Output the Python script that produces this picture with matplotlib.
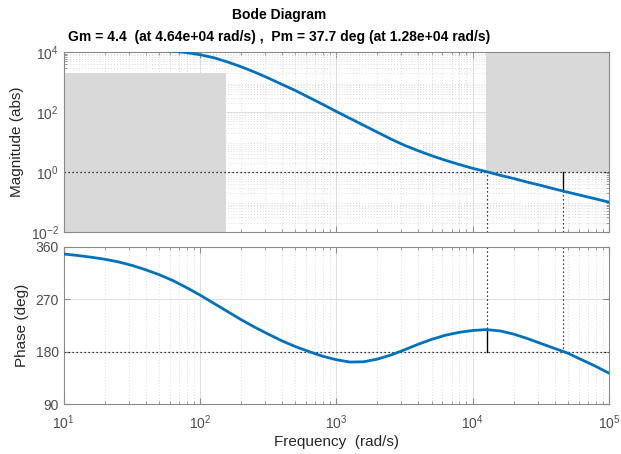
import numpy as np
import matplotlib
matplotlib.use("Agg")
import matplotlib.pyplot as plt
from matplotlib.patches import Rectangle
from matplotlib.ticker import LogLocator, FixedLocator, NullFormatter

# ---------------- data ----------------
mag_logw = [1.0, 1.2, 1.4, 1.6, 1.8, 1.9, 2.0, 2.1, 2.2, 2.3, 2.4, 2.5, 2.6, 2.7,
            2.8, 2.9, 3.0, 3.1, 3.2, 3.3, 3.4, 3.5, 3.6, 3.7, 3.8, 3.9, 4.0,
            4.1, 4.2, 4.3, 4.4, 4.5, 4.6, 4.7, 4.8, 4.9, 5.0]
mag_logval = [4.16, 4.15, 4.13, 4.10, 4.04, 3.99, 3.92, 3.82, 3.68, 3.52, 3.34,
              3.14, 2.93, 2.72, 2.49, 2.26, 2.02, 1.79, 1.56, 1.33, 1.10, 0.89,
              0.71, 0.54, 0.39, 0.25, 0.12, 0.01, -0.11, -0.22, -0.34, -0.45,
              -0.57, -0.68, -0.79, -0.90, -1.01]

ph_logw = [1.0, 1.1, 1.2, 1.3, 1.4, 1.5, 1.6, 1.7, 1.8, 1.9, 2.0, 2.1, 2.2, 2.3,
           2.4, 2.5, 2.6, 2.7, 2.8, 2.9, 3.0, 3.1, 3.2, 3.3, 3.4, 3.5, 3.6,
           3.7, 3.8, 3.9, 4.0, 4.1, 4.2, 4.3, 4.4, 4.5, 4.6, 4.667, 4.7, 4.8,
           4.9, 5.0]
ph_deg = [347.5, 345, 342, 338.5, 334, 328, 320.5, 312, 302, 290, 277, 263, 249,
          235, 222, 210, 198.5, 188.5, 180, 172, 166, 162, 162.5, 167, 174, 183,
          192.5, 201, 208, 213, 216.2, 217.7, 215.5, 210, 202.5, 194, 185.5, 180,
          177, 166, 155, 143]

gm_value = 4.4
gm_freq = 4.64e4
pm_value = 37.7
pm_freq = 1.28e4

# constraint boxes: (w_lo, w_hi, mag_lo, mag_hi)
box_low = (10, 155, 1e-2, 2000)
box_high = (1.25e4, 1e5, 1.0, 1e4)

x_ticks = [1e1, 1e2, 1e3, 1e4, 1e5]
mag_ticks = [1e-2, 1e0, 1e2, 1e4]
ph_ticks = [90, 180, 270, 360]

# ------------------------------------------------------------
w_mag = 10 ** np.array(mag_logw)
mag = 10 ** np.array(mag_logval)
w_ph = 10 ** np.array(ph_logw)
ph = np.array(ph_deg)

FONT = "Liberation Sans"
plt.rcParams["font.family"] = [FONT, "DejaVu Sans"]
plt.rcParams["mathtext.fontset"] = "custom"
plt.rcParams["mathtext.rm"] = FONT

LINE = "#0072BD"
BOX = "#d9d9d9"
SPINE = "#8a8a8a"
TICKC = "#4d4d4d"

fig = plt.figure(figsize=(6.21, 4.54), dpi=100)
ax1 = fig.add_axes([0.1026, 0.4896, 0.878, 0.3952])
ax2 = fig.add_axes([0.1026, 0.1101, 0.878, 0.3465])

def style(ax):
    for s in ax.spines.values():
        s.set_color(SPINE)
        s.set_linewidth(0.8)
    ax.tick_params(which="both", direction="in", top=True, right=True,
                   colors=SPINE, labelcolor=TICKC, labelsize=10)
    ax.tick_params(which="major", length=4)
    ax.tick_params(which="minor", length=2.5)
    ax.grid(True, which="major", color="#dedede", linestyle="-", linewidth=0.7, zorder=0)
    ax.grid(True, which="minor", color="#d0d0d0", linestyle=(0, (1, 2.5)), linewidth=0.6, zorder=0)
    ax.set_axisbelow(True)

# ---- magnitude ----
ax1.set_xscale("log")
ax1.set_yscale("log")
ax1.set_xlim(x_ticks[0], x_ticks[-1])
ax1.set_ylim(mag_ticks[0], mag_ticks[-1])
ax1.xaxis.set_major_locator(FixedLocator(x_ticks))
ax1.xaxis.set_minor_locator(LogLocator(base=10, subs=np.arange(2, 10)))
ax1.xaxis.set_major_formatter(NullFormatter())
ax1.xaxis.set_minor_formatter(NullFormatter())
ax1.yaxis.set_major_locator(FixedLocator(mag_ticks))
ax1.yaxis.set_minor_locator(LogLocator(base=10, subs=np.arange(2, 10), numticks=20))
ax1.yaxis.set_minor_formatter(NullFormatter())
ax1.set_yticklabels([r"$10^{%d}$" % int(np.log10(t)) for t in mag_ticks])
style(ax1)

for (wl, wh, ml, mh) in (box_low, box_high):
    ax1.add_patch(Rectangle((wl, ml), wh - wl, mh - ml, facecolor=BOX,
                            edgecolor="none", zorder=1.5))

DOT = (0, (1, 2.2))
ax1.axhline(1.0, color="black", linestyle=DOT, linewidth=0.9, zorder=2)
ax1.plot([pm_freq, pm_freq], [mag_ticks[0], 1.0], color="black",
         linestyle=DOT, linewidth=0.9, zorder=2)
ax1.plot([gm_freq, gm_freq], [mag_ticks[0], 1 / gm_value], color="black",
         linestyle=DOT, linewidth=0.9, zorder=2)
ax1.plot([gm_freq, gm_freq], [1 / gm_value, 1.0], color="black",
         linewidth=1.0, zorder=2)
ax1.plot(w_mag, mag, color=LINE, linewidth=2.0, zorder=3)
ax1.set_ylabel("Magnitude (abs)", fontsize=11, color="#262626", labelpad=5)

# ---- phase ----
ax2.set_xscale("log")
ax2.set_xlim(x_ticks[0], x_ticks[-1])
ax2.set_ylim(ph_ticks[0], ph_ticks[-1])
ax2.xaxis.set_major_locator(FixedLocator(x_ticks))
ax2.xaxis.set_minor_locator(LogLocator(base=10, subs=np.arange(2, 10)))
ax2.xaxis.set_minor_formatter(NullFormatter())
ax2.set_xticklabels([r"$10^{%d}$" % int(np.log10(t)) for t in x_ticks])
ax2.yaxis.set_major_locator(FixedLocator(ph_ticks))
style(ax2)
ax2.tick_params(axis="x", which="major", pad=7)

ax2.axhline(180, color="black", linestyle=DOT, linewidth=0.9, zorder=2)
ax2.plot([pm_freq, pm_freq], [ph_ticks[-1], 180 + pm_value], color="black",
         linestyle=DOT, linewidth=0.9, zorder=2)
ax2.plot([pm_freq, pm_freq], [180, 180 + pm_value], color="black",
         linewidth=1.0, zorder=2)
ax2.plot([gm_freq, gm_freq], [ph_ticks[-1], 180], color="black",
         linestyle=DOT, linewidth=0.9, zorder=2)
ax2.plot(w_ph, ph, color=LINE, linewidth=2.0, zorder=3)
ax2.set_ylabel("Phase (deg)", fontsize=11, color="#262626", labelpad=5)
ax2.set_xlabel("Frequency  (rad/s)", fontsize=11, color="#262626", labelpad=2)

fig.text(0.449, 0.968, "Bode Diagram", ha="center", va="center",
         fontsize=10, fontweight="bold", color="black")
fig.text(0.449, 0.918,
         "Gm = %.1f  (at %.2e rad/s) ,  Pm = %.1f deg (at %.2e rad/s)"
         % (gm_value, gm_freq, pm_value, pm_freq),
         ha="center", va="center", fontsize=10, fontweight="bold", color="black")

fig.savefig("out.png", dpi=100)
